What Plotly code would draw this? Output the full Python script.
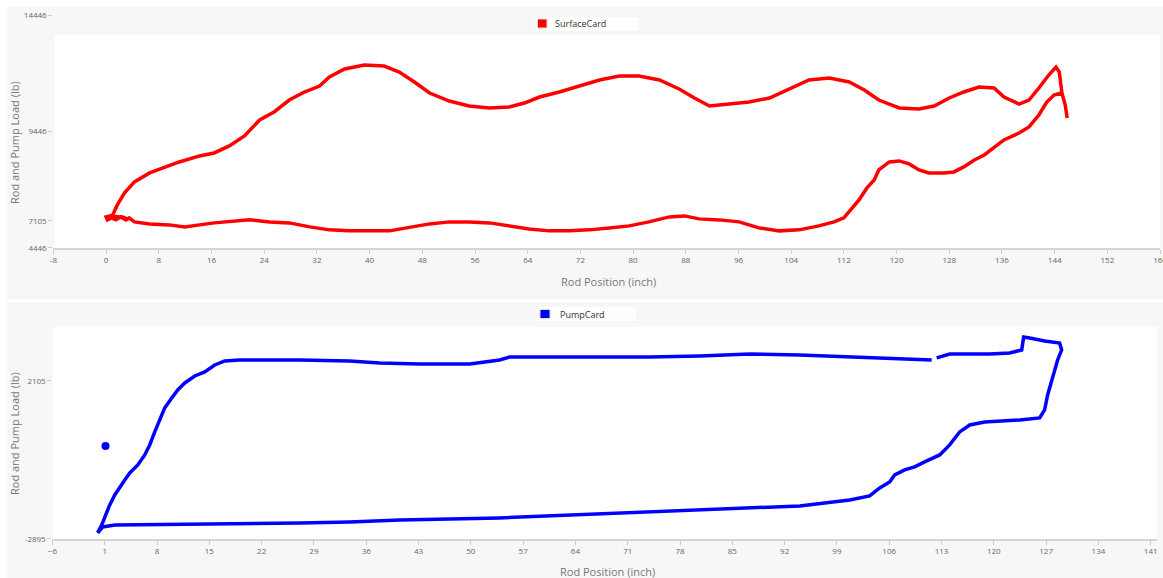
import plotly.graph_objects as go

W, H = 1163, 578

# ---- SurfaceCard: rod position (inch) vs load (lb) ----
# downstroke, traced from the right end back to the origin
surf_down_pos = [145.0, 143.9, 142.8, 141.6, 140.1, 138.6, 136.3, 134.8, 133.3, 131.8,
                 130.2, 128.7, 127.2, 124.9, 123.4, 121.9, 120.4, 118.9, 117.3, 116.6,
                 115.5, 114.3, 113.1, 112.0, 110.5, 108.2, 105.2, 102.2, 99.1, 96.1,
                 93.1, 90.0, 87.8, 85.5, 82.4, 79.4, 76.4, 73.3, 70.3, 67.3,
                 64.2, 61.2, 58.2, 55.1, 52.1, 49.1, 46.0, 43.0, 40.0, 36.9,
                 33.9, 30.9, 27.8, 24.8, 21.8, 19.5, 16.4, 14.2, 11.9, 9.6,
                 6.6, 4.3, 3.5]
surf_down_load = [11099, 11013, 10712, 10154, 9639, 9382, 9081, 8781, 8438, 8223,
                  7923, 7708, 7665, 7665, 7794, 8051, 8180, 8137, 7794, 7365,
                  7021, 6506, 6077, 5734, 5562, 5390, 5219, 5176, 5304, 5562,
                  5648, 5691, 5819, 5777, 5562, 5390, 5304, 5219, 5176, 5176,
                  5261, 5390, 5519, 5562, 5562, 5476, 5304, 5176, 5176, 5176,
                  5219, 5347, 5519, 5562, 5648, 5605, 5519, 5433, 5347, 5433,
                  5476, 5562, 5734]
# jitter around the bottom of the stroke
surf_turn_pos = [3.0, 2.2, 1.5, 0.8, 0.2, 0.0, 0.6, 1.4, 2.4, 3.2, 2.0, 0.9]
surf_turn_load = [5648, 5777, 5648, 5734, 5648, 5777, 5820, 5691, 5777, 5691, 5777, 5820]
# upstroke
surf_up_pos = [1.2, 1.7, 2.8, 4.3, 6.6, 8.9, 11.1, 14.2, 16.4, 18.7,
               21.0, 23.3, 25.5, 27.8, 30.1, 32.4, 33.9, 36.2, 39.2, 42.2,
               44.5, 46.8, 49.1, 52.1, 55.1, 58.2, 61.2, 63.5, 65.8, 68.8,
               71.8, 74.9, 77.9, 80.9, 84.0, 87.0, 89.3, 91.6, 94.6, 97.6,
               100.7, 103.7, 106.7, 109.8, 112.8, 115.1, 117.3, 120.4, 123.4, 125.7,
               128.0, 130.2, 132.5, 134.8, 136.3, 138.6, 140.1, 141.6, 143.1, 144.2,
               144.7, 145.1, 145.6, 145.9]
surf_up_load = [5990, 6292, 6807, 7279, 7665, 7923, 8137, 8395, 8523, 8824,
                9253, 9940, 10283, 10798, 11142, 11399, 11785, 12129, 12300, 12257,
                12000, 11571, 11099, 10755, 10541, 10455, 10498, 10669, 10927, 11142,
                11399, 11657, 11828, 11828, 11657, 11270, 10884, 10541, 10626, 10712,
                10884, 11270, 11657, 11742, 11571, 11227, 10798, 10455, 10412, 10541,
                10884, 11142, 11356, 11313, 10927, 10626, 10798, 11313, 11871, 12215,
                12000, 11099, 10584, 10026]

surface_pos = surf_down_pos + surf_turn_pos + surf_up_pos
surface_load = surf_down_load + surf_turn_load + surf_up_load
assert len(surface_pos) == len(surface_load)

# ---- PumpCard: plunger position (inch) vs load (lb); None marks a dropout ----
pump_pos = [0.06, 0.60, 1.13, 1.67, 2.34, 3.01, 3.68, 4.35, 5.42, 6.35,
            7.02, 7.69, 8.36, 9.03, 9.97, 10.77, 11.71, 13.05, 14.38, 15.72,
            17.06, 19.07, 27.10, 33.79, 37.80, 43.16, 49.85, 53.86, 55.20, 59.22,
            67.25, 73.94, 80.63, 87.32, 94.01, 100.71, 104.72, 111.68, None, 112.35,
            114.09, 119.44, 122.12, 123.73, 123.99, 124.79, 126.80, 128.81, 129.08, 128.54,
            127.74, 127.20, 126.80, 126.13, 123.46, 120.78, 118.77, 116.77, 115.43, 114.09,
            112.75, 110.74, 109.40, 108.07, 106.73, 106.06, 104.72, 103.38, 100.71, 94.01,
            80.63, 67.25, 53.86, 40.48, 33.79, 27.10, 13.71, 2.34, 0.73, 0.06]
pump_load = [-2705, -2452, -2135, -1819, -1502, -1249, -1028, -806, -553, -236,
             80, 492, 871, 1251, 1568, 1821, 2042, 2264, 2391, 2612,
             2739, 2770, 2770, 2739, 2675, 2644, 2644, 2770, 2865, 2865,
             2865, 2865, 2897, 2960, 2929, 2865, 2834, 2770, None, 2834,
             2960, 2960, 2992, 3087, 3498, 3467, 3372, 3308, 3087, 2770,
             2137, 1663, 1188, 935, 871, 840, 808, 713, 492, 80,
             -236, -458, -616, -711, -869, -1091, -1281, -1534, -1661, -1851,
             -1977, -2104, -2230, -2294, -2357, -2389, -2420, -2452, -2515, -2705]
assert len(pump_pos) == len(pump_load)
pump_start_pos = [1.1]
pump_start_load = [50]

# axis ticks
surf_xtick_vals = list(range(-8, 161, 8))
surf_ytick_vals = [4446, 5605, 9446, 14446]
surf_ytick_text = ["4446", "7105", "9446", "14446"]
pump_ytick_vals = [-2895, 2105]
pump_ytick_text = ["-2895", "2105"]

RED = "#ff0000"
BLUE = "#0000ff"
PANEL = "#f7f7f7"
FONT = "Open Sans, Noto Sans, sans-serif"


def fx(p):
    return p / W


def fy(p):
    return 1 - p / H


fig = go.Figure()
fig.add_trace(go.Scatter(x=surface_pos, y=surface_load, mode="lines", name="SurfaceCard",
                         line=dict(color=RED, width=3.5), xaxis="x", yaxis="y",
                         showlegend=False))
fig.add_trace(go.Scatter(x=pump_pos, y=pump_load, mode="lines", name="PumpCard",
                         line=dict(color=BLUE, width=3.5), connectgaps=False,
                         xaxis="x2", yaxis="y2", showlegend=False))
fig.add_trace(go.Scatter(x=pump_start_pos, y=pump_start_load, mode="markers", name="PumpCard",
                         marker=dict(color=BLUE, size=8), xaxis="x2", yaxis="y2",
                         showlegend=False))

axis_common = dict(showgrid=False, zeroline=False, ticks="outside", ticklen=4,
                   automargin=False, tickcolor="#cccccc", ticklabeloverflow="allow",
                   tickfont=dict(family=FONT, size=8, color="#666666"))

shapes = [
    # panels
    dict(type="rect", xref="paper", yref="paper", x0=fx(7), x1=1, y0=fy(299), y1=fy(7),
         fillcolor=PANEL, line=dict(width=0), layer="below"),
    dict(type="rect", xref="paper", yref="paper", x0=fx(7), x1=1, y0=0, y1=fy(302),
         fillcolor=PANEL, line=dict(width=0), layer="below"),
    # plot areas
    dict(type="rect", xref="paper", yref="paper", x0=fx(54.5), x1=fx(1160), y0=fy(248), y1=fy(35),
         fillcolor="white", line=dict(width=0), layer="below"),
    dict(type="rect", xref="paper", yref="paper", x0=fx(52.5), x1=fx(1157), y0=fy(539), y1=fy(327),
         fillcolor="white", line=dict(width=0), layer="below"),
    # legend boxes
    dict(type="rect", xref="paper", yref="paper", x0=fx(535), x1=fx(639), y0=fy(31), y1=fy(17),
         fillcolor="#fdfdfd", line=dict(width=0), layer="below"),
    dict(type="rect", xref="paper", yref="paper", x0=fx(537), x1=fx(636), y0=fy(321), y1=fy(307),
         fillcolor="#fdfdfd", line=dict(width=0), layer="below"),
    # legend swatches
    dict(type="rect", xref="paper", yref="paper", x0=fx(537.5), x1=fx(547), y0=fy(28), y1=fy(19),
         fillcolor=RED, line=dict(width=1, color="#dddddd")),
    dict(type="rect", xref="paper", yref="paper", x0=fx(540), x1=fx(550), y0=fy(318.5), y1=fy(309.5),
         fillcolor=BLUE, line=dict(width=1, color="#dddddd")),
]

title_font = dict(family=FONT, size=11, color="#777777")
annotations = [
    dict(text="SurfaceCard", x=fx(553), y=fy(23), xref="paper", yref="paper",
         xanchor="left", yanchor="middle", showarrow=False,
         font=dict(family=FONT, size=9, color="#333333")),
    dict(text="PumpCard", x=fx(558), y=fy(314), xref="paper", yref="paper",
         xanchor="left", yanchor="middle", showarrow=False,
         font=dict(family=FONT, size=9, color="#333333")),
    dict(text="Rod Position (inch)", x=fx(608), y=fy(282), xref="paper", yref="paper",
         xanchor="center", yanchor="middle", showarrow=False, font=title_font),
    dict(text="Rod Position (inch)", x=fx(607), y=fy(571), xref="paper", yref="paper",
         xanchor="center", yanchor="middle", showarrow=False, font=title_font),
    dict(text="Rod and Pump Load (lb)", x=fx(14), y=fy(143), xref="paper", yref="paper",
         xanchor="center", yanchor="middle", textangle=-90, showarrow=False, font=title_font),
    dict(text="Rod and Pump Load (lb)", x=fx(14), y=fy(434), xref="paper", yref="paper",
         xanchor="center", yanchor="middle", textangle=-90, showarrow=False, font=title_font),
]

fig.update_layout(
    width=W, height=H,
    margin=dict(l=0, r=0, t=0, b=0),
    paper_bgcolor="white",
    plot_bgcolor="rgba(0,0,0,0)",
    showlegend=False,
    font=dict(family=FONT),
    xaxis=dict(domain=[fx(53.3), fx(1160.4)], anchor="y", range=[-8.02, 160.05],
               tickmode="array", tickvals=surf_xtick_vals,
               ticktext=[str(v) for v in surf_xtick_vals],
               showline=True, linecolor="#d4d4d4", linewidth=1.5, **axis_common),
    yaxis=dict(domain=[fy(248), fy(15)], anchor="x", range=[4440, 14450],
               tickmode="array", tickvals=surf_ytick_vals, ticktext=surf_ytick_text,
               showline=False, **axis_common),
    xaxis2=dict(domain=[fx(52.3), fx(1157)], anchor="y2", range=[-6.02, 141.84],
                tickmode="linear", tick0=-6, dtick=7,
                showline=True, linecolor="#d4d4d4", linewidth=1.5, **axis_common),
    yaxis2=dict(domain=[fy(539), fy(327)], anchor="x2", range=[-2898, 3814],
                tickmode="array", tickvals=pump_ytick_vals, ticktext=pump_ytick_text,
                showline=False, **axis_common),
    shapes=shapes,
    annotations=annotations,
)

fig.write_html("out.html")
